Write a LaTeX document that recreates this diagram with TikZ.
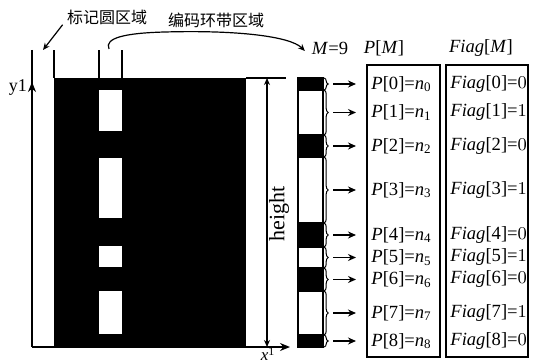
\documentclass[tikz,border=0pt]{standalone}
\usepackage{fontspec}
\setmainfont{Liberation Serif}
\newfontfamily\cjk{Noto Sans CJK SC}
\usetikzlibrary{arrows.meta,positioning,decorations.pathreplacing}

\begin{document}
\begin{tikzpicture}[
  x=0.5pt, y=-0.5pt,
  font=\fontsize{9.3}{11}\selectfont,
  axis/.style={line width=1pt},
  arr/.style={-{Stealth[length=4pt,width=3.5pt]}, line width=0.8pt},
  thin arr/.style={-{Stealth[length=3.5pt,width=3pt]}, line width=0.6pt},
  seg/.style={draw, line width=0.7pt, fill=#1, inner sep=0pt, outer sep=0pt,
              minimum width=12.5pt},
  hole/.style={fill=white, inner sep=0pt, outer sep=0pt, minimum width=11.5pt},
  brace/.style={decorate, decoration={brace, amplitude=2pt}, line width=0.5pt},
  listbox/.style={draw, line width=1pt, inner sep=0pt, minimum height=146pt},
  entry/.style={anchor=west, inner sep=0pt},
  zh/.style={font=\cjk\fontsize{8}{10}\selectfont, inner sep=0pt},
]
\useasboundingbox (0,0) rectangle (545,363);

%% --- Marker region ---
\node[fill=black, inner sep=0pt, outer sep=0pt,
      minimum width=96pt, minimum height=134.5pt] (blk) at (150,212.5) {};
\foreach \t/\b [count=\k] in {90/131,158/218,246/267,291/334} {
  \pgfmathsetmacro\h{(\b-\t)/2}
  \node[hole, minimum height=\h*1pt] (hole\k) at (110.5,{(\t+\b)/2}) {};
}
\draw[axis] (blk.north west) -- ++(0,-28);
\draw[axis] (hole1.west |- blk.north) -- ++(0,-28);
\draw[axis] (hole1.east |- blk.north) -- ++(0,-28);

%% --- Axes ---
\coordinate (orig) at (32,347);
\coordinate (yend) at (32,50);
\coordinate (ytip) at (32,82);
\coordinate (xend) at (290,347);
\draw[axis] (yend) -- (orig);
\draw[axis, -{Stealth[length=5pt,width=4pt]}] (orig) -- (ytip);
\draw[axis, -{Stealth[length=5pt,width=4pt]}] (orig) -- (xend);
\node[font=\fontsize{9}{10}\selectfont] (ylbl) at (18,88) {y1};
\node[inner sep=0pt, font=\fontsize{8.5}{9}\selectfont] (xlbl) at (268,354) {\textit{x}\textsuperscript{1}};

%% --- Height ---
\coordinate (htop) at (267,78);
\coordinate (hbot) at (267,347);
\coordinate (topend) at (286,78);
\draw[line width=0.6pt] (blk.north east) -- (topend);
\draw[{Stealth[length=3.5pt,width=3pt]}-{Stealth[length=3.5pt,width=3pt]},
      line width=0.6pt] (htop) -- (hbot);
\node[rotate=90, font=\fontsize{11}{12}\selectfont] (hlbl) at (279,214) {height};

%% --- Code bar and lists ---
\node[listbox, minimum width=36.5pt] (pbox) at (403.5,211) {};
\node[listbox, minimum width=41pt]   (fbox) at (487,211) {};
\node (phead) at (384,48) {\textit{P}[\textit{M}]};
\node (fhead) at (481,48) {\textit{Fiag}[\textit{M}]};
\node (m9)    at (330,48) {\textit{M}=9};

\foreach \i/\t/\b/\c in {0/78/90/black,1/90/135/white,2/135/157/black,
                         3/157/223/white,4/223/247/black,5/247/268/white,
                         6/268/291/black,7/291/335/white,8/335/347/black} {
  \pgfmathsetmacro\h{(\b-\t)/2}
  \node[seg=\c, minimum height=\h*1pt] (s\i) at (310.5,{(\t+\b)/2}) {};
  \draw[brace] ([xshift=0.6pt]s\i.north east) -- ([xshift=0.6pt]s\i.south east);
  \node[entry, right=24pt of s\i] (p\i)
       {\textit{P}[\i]=\textit{n}\textsubscript{\i}};
  \node[entry] (f\i) at ([xshift=39.5pt]p\i.west) {\textit{Fiag}[\i]=\pgfmathparse{mod(\i,2)}\pgfmathprintnumber{\pgfmathresult}};
  \draw[arr, shorten <=5pt, shorten >=7.5pt] (s\i.east) -- (p\i.west);
}

%% --- Region labels ---
\node[zh] (lblmark) at (107,17) {标记圆区域};
\node[zh] (lblcode) at (216,20) {编码环带区域};
\coordinate (marktip) at (43,50);
\coordinate (cstart) at (109,49);
\draw[thin arr] ([xshift=-2pt]lblmark.south west) -- (marktip);
\draw[thin arr] (cstart) .. controls (104,38) and (125,33) .. (165,32)
                .. controls (235,30) and (290,36) .. ([yshift=-1.5pt]m9.west);

\end{tikzpicture}
\end{document}
